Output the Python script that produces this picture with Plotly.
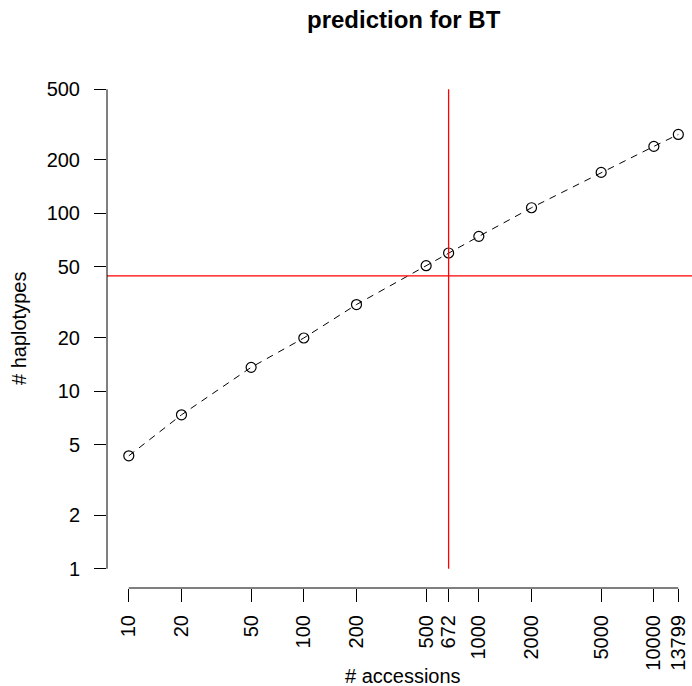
import math
import plotly.graph_objects as go

# Predicted number of haplotypes for a given number of accessions
accessions = [10, 20, 50, 100, 200, 500, 672, 1000, 2000, 5000, 10000, 13799]
haplotypes = [4.32, 7.35, 13.6, 19.9, 30.7, 50.8, 59.9, 74.3, 107.7, 170.3, 238.5, 278.5]

x_ticks = [10, 20, 50, 100, 200, 500, 672, 1000, 2000, 5000, 10000, 13799]
y_ticks = [1, 2, 5, 10, 20, 50, 100, 200, 500]

current_accessions = 672
observed_haplotypes = 44.5

title_text = "prediction for BT"
x_title = "# accessions"
y_title = "# haplotypes"

W, H = 692, 686
ML, MR, MT, MB = 107, 0, 70, 98
PW = W - ML - MR
PH = H - MT - MB

# log-axis ranges (R style 4% padding)
xr = [0.8755, 4.218]
yr = [-0.1086, math.log10(500) + 0.1086]

FONT = "Liberation Sans, Arial, Helvetica, sans-serif"


def xpaper(v):
    return (math.log10(v) - xr[0]) / (xr[1] - xr[0])


def ypaper(v):
    return (math.log10(v) - yr[0]) / (yr[1] - yr[0])


def px_to_paper_x(px):
    return (px - ML) / PW


def py_to_paper_y(py):
    return (H - MB - py) / PH


fig = go.Figure()

fig.add_trace(go.Scatter(
    x=accessions, y=haplotypes, mode="lines+markers",
    line=dict(color="black", width=1, dash="7px,6px"),
    marker=dict(symbol="circle-open", size=10, color="black", line=dict(width=1.2)),
    showlegend=False, hoverinfo="x+y",
))

# reference lines: current collection size and observed haplotypes
fig.add_trace(go.Scatter(
    x=[10 ** xr[0], 10 ** xr[1]], y=[observed_haplotypes, observed_haplotypes],
    mode="lines", line=dict(color="#ff0000", width=1.3), showlegend=False, hoverinfo="skip",
))
fig.add_trace(go.Scatter(
    x=[current_accessions, current_accessions], y=[min(y_ticks), max(y_ticks)],
    mode="lines", line=dict(color="#ff0000", width=1.3), showlegend=False, hoverinfo="skip",
))

# axis lines spanning only the tick range
shapes = [
    dict(type="line", xref="paper", yref="paper",
         x0=xpaper(min(x_ticks)), x1=xpaper(max(x_ticks)), y0=0, y1=0,
         line=dict(color="black", width=1)),
    dict(type="line", xref="paper", yref="paper",
         x0=0, x1=0, y0=ypaper(min(y_ticks)), y1=ypaper(max(y_ticks)),
         line=dict(color="black", width=1)),
]

annotations = [
    dict(text="<b>" + title_text + "</b>", xref="paper", yref="paper",
         x=px_to_paper_x(404), y=py_to_paper_y(19), xanchor="center", yanchor="middle",
         showarrow=False, font=dict(size=24, color="black", family=FONT)),
    dict(text=x_title, xref="paper", yref="paper",
         x=px_to_paper_x(403), y=py_to_paper_y(676), xanchor="center", yanchor="middle",
         showarrow=False, font=dict(size=20, color="black", family=FONT)),
    dict(text=y_title, xref="paper", yref="paper", textangle=-90,
         x=px_to_paper_x(19), y=py_to_paper_y(329), xanchor="center", yanchor="middle",
         showarrow=False, font=dict(size=20, color="black", family=FONT)),
]

fig.update_layout(
    width=W, height=H,
    margin=dict(l=ML, r=MR, t=MT, b=MB, pad=0),
    paper_bgcolor="white", plot_bgcolor="white",
    font=dict(family=FONT, size=20, color="black"),
    shapes=shapes, annotations=annotations,
    showlegend=False,
)

fig.update_xaxes(
    type="log", range=xr, showgrid=False, zeroline=False, showline=False,
    tickmode="array", tickvals=x_ticks, ticktext=[str(v) for v in x_ticks],
    ticks="outside", ticklen=13, tickwidth=1, tickcolor="black",
    tickangle=-90, ticklabelstandoff=5,
    tickfont=dict(size=20, color="black", family=FONT),
)
fig.update_yaxes(
    type="log", range=yr, showgrid=False, zeroline=False, showline=False,
    tickmode="array", tickvals=y_ticks, ticktext=[str(v) for v in y_ticks],
    ticks="outside", ticklen=12, tickwidth=1, tickcolor="black",
    ticklabelstandoff=10,
    tickfont=dict(size=20, color="black", family=FONT),
)

fig.write_html("out.html")
